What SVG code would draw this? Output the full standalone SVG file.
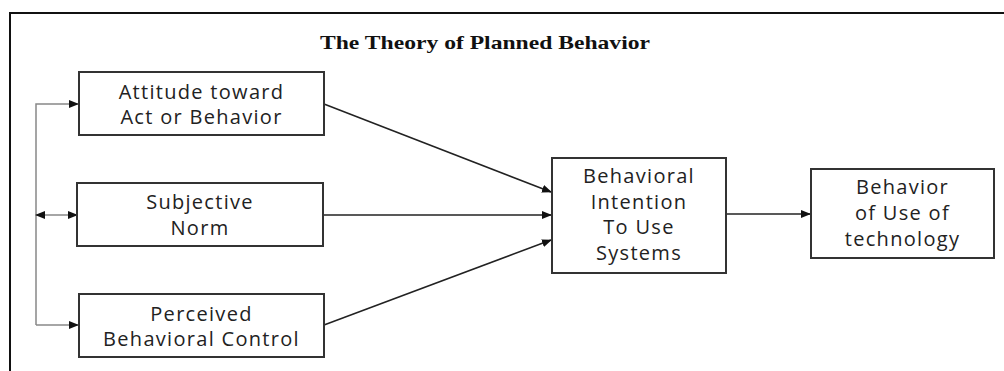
<svg xmlns="http://www.w3.org/2000/svg" width="1004" height="371" viewBox="0 0 1004 371">
<style>
.box{fill:#fff;stroke:#333;stroke-width:2}
.lbl{font-family:"Open Sans","Noto Sans",sans-serif;font-size:20px;letter-spacing:1.3px;fill:#222;text-anchor:middle}
.con{stroke:#222;stroke-width:1.5;fill:none}
.side{stroke:#888;stroke-width:1.5;fill:none}
</style>
<defs>
<marker id="ah" markerWidth="10" markerHeight="8" refX="9" refY="4" orient="auto" markerUnits="userSpaceOnUse">
<path d="M0,0 L10,4 L0,8 Z" fill="#111"/>
</marker>
<marker id="ahs" markerWidth="10" markerHeight="8" refX="1" refY="4" orient="auto" markerUnits="userSpaceOnUse">
<path d="M10,0 L0,4 L10,8 Z" fill="#111"/>
</marker>
</defs>
<rect width="1004" height="371" fill="#fff"/>
<path d="M10,371 V13 H1004" fill="none" stroke="#111" stroke-width="2"/>
<text x="320" y="49" font-family="'Liberation Serif',serif" font-weight="bold" font-size="19" textLength="330" lengthAdjust="spacingAndGlyphs" fill="#111">The Theory of Planned Behavior</text>
<g id="connectors">
<path class="side" d="M36,325 V104 H78" marker-end="url(#ah)"/>
<path class="side" d="M36,215 H77" marker-start="url(#ahs)" marker-end="url(#ah)"/>
<path class="side" d="M36,325 H78" marker-end="url(#ah)"/>
<path class="con" d="M324,104 L551,192" marker-end="url(#ah)"/>
<path class="con" d="M323,215 L551,215" marker-end="url(#ah)"/>
<path class="con" d="M324,325 L551,240" marker-end="url(#ah)"/>
<path class="con" d="M726,214 L810,214" marker-end="url(#ah)"/>
</g>
<g id="attitude">
<rect class="box" x="79" y="72" width="245" height="63"/>
<text class="lbl" x="201.5" y="98.5">Attitude toward</text>
<text class="lbl" x="201.5" y="124">Act or Behavior</text>
</g>
<g id="subjective">
<rect class="box" x="77" y="183" width="246" height="63"/>
<text class="lbl" x="200" y="209">Subjective</text>
<text class="lbl" x="200" y="235">Norm</text>
</g>
<g id="perceived">
<rect class="box" x="79" y="294" width="245" height="63"/>
<text class="lbl" x="201.5" y="320.5">Perceived</text>
<text class="lbl" x="201.5" y="346">Behavioral Control</text>
</g>
<g id="intention">
<rect class="box" x="552" y="158" width="174" height="115"/>
<text class="lbl" x="639" y="183">Behavioral</text>
<text class="lbl" x="639" y="208.5">Intention</text>
<text class="lbl" x="639" y="234">To Use</text>
<text class="lbl" x="639" y="259.5">Systems</text>
</g>
<g id="behavior">
<rect class="box" x="811" y="169" width="183" height="89"/>
<text class="lbl" x="902.5" y="194">Behavior</text>
<text class="lbl" x="902.5" y="220">of Use of</text>
<text class="lbl" x="902.5" y="246">technology</text>
</g>
</svg>
